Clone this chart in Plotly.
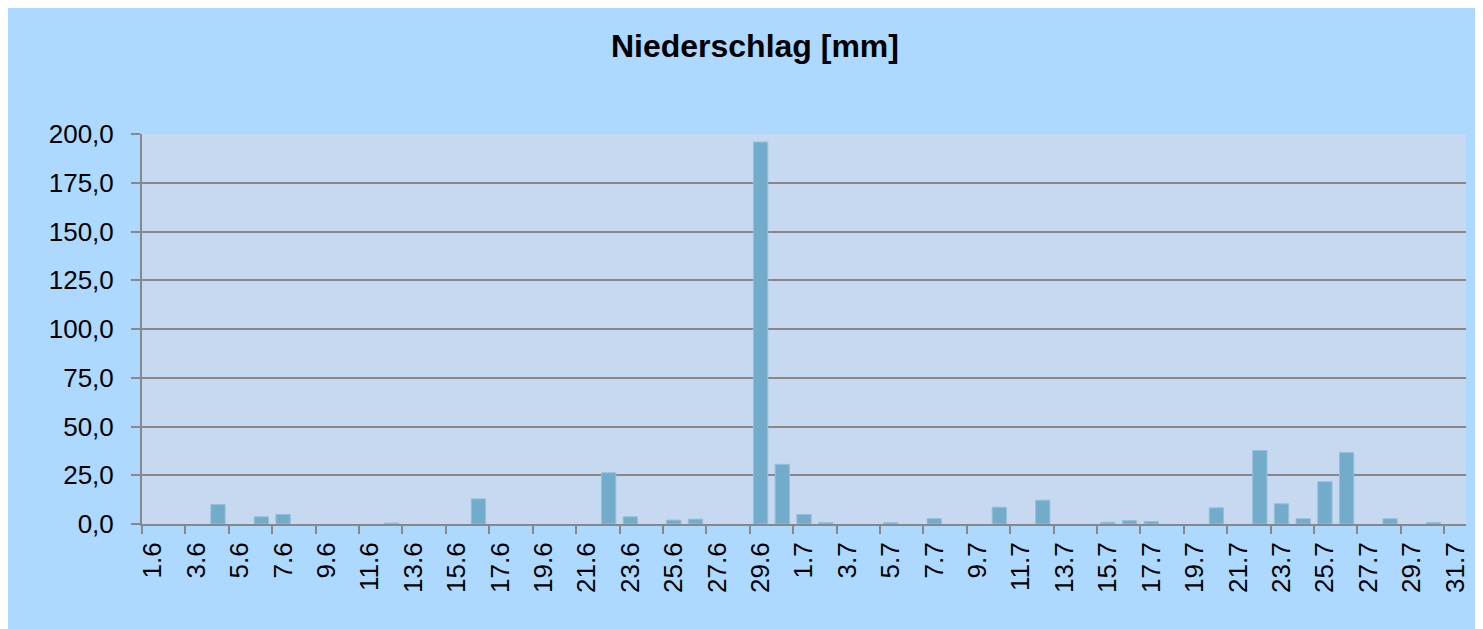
import plotly.graph_objects as go

june_days = [f"{d}.6" for d in range(1, 31)]
july_days = [f"{d}.7" for d in range(1, 32)]
categories = june_days + july_days

june_mm = [0, 0, 0, 10.0, 0, 3.7, 4.9, 0, 0, 0,
           0, 0.5, 0, 0, 0, 12.9, 0, 0, 0, 0,
           0, 26.3, 3.7, 0, 2.0, 2.5, 0, 0, 195.9, 30.6]
july_mm = [4.9, 0.7, 0, 0, 0.7, 0, 2.8, 0, 0, 8.6,
           0, 12.2, 0, 0, 0.9, 1.8, 1.3, 0, 0, 8.3,
           0, 37.7, 10.4, 2.7, 21.7, 36.7, 0, 2.7, 0, 0.8, 0]
values = june_mm + july_mm

y_ticks = [0, 25, 50, 75, 100, 125, 150, 175, 200]

edge_widths = [1 if v > 0 else 0 for v in values]

fig = go.Figure(go.Bar(
    x=categories, y=values,
    marker=dict(color="#72ACCA", line=dict(color="#96C0DA", width=edge_widths)),
))

W, H = 1475, 622
fig.update_layout(
    width=W, height=H,
    paper_bgcolor="#ADD8FF",
    plot_bgcolor="#C6D9F1",
    margin=dict(l=134, r=17, t=126, b=106),
    bargap=0.34,
    separators=",.",
    showlegend=False,
    font=dict(family="Liberation Sans, Arial, sans-serif", color="black", size=26),
    title=dict(text="<b>Niederschlag [mm]</b>", x=0.5064, xanchor="center",
               y=0.94, yanchor="middle", font=dict(size=32, color="black")),
)
fig.update_yaxes(
    range=[0, 200], tickvals=y_ticks, tickformat=".1f",
    showgrid=True, gridcolor="#888888", gridwidth=2,
    showline=True, linecolor="#888888", linewidth=2,
    ticks="outside", ticklen=9, tickcolor="#888888", tickwidth=2,
    ticklabelstandoff=12, zeroline=False,
    tickfont=dict(size=26),
)
fig.update_xaxes(
    type="category", dtick=2, tickson="boundaries",
    tickangle=-90, showgrid=False,
    showline=True, linecolor="#888888", linewidth=2,
    ticks="outside", ticklen=8, tickcolor="#888888", tickwidth=2,
    tickfont=dict(size=26), ticklabelstandoff=6,
    range=[-0.5, 60.5],
)

fig.write_html("out.html")
